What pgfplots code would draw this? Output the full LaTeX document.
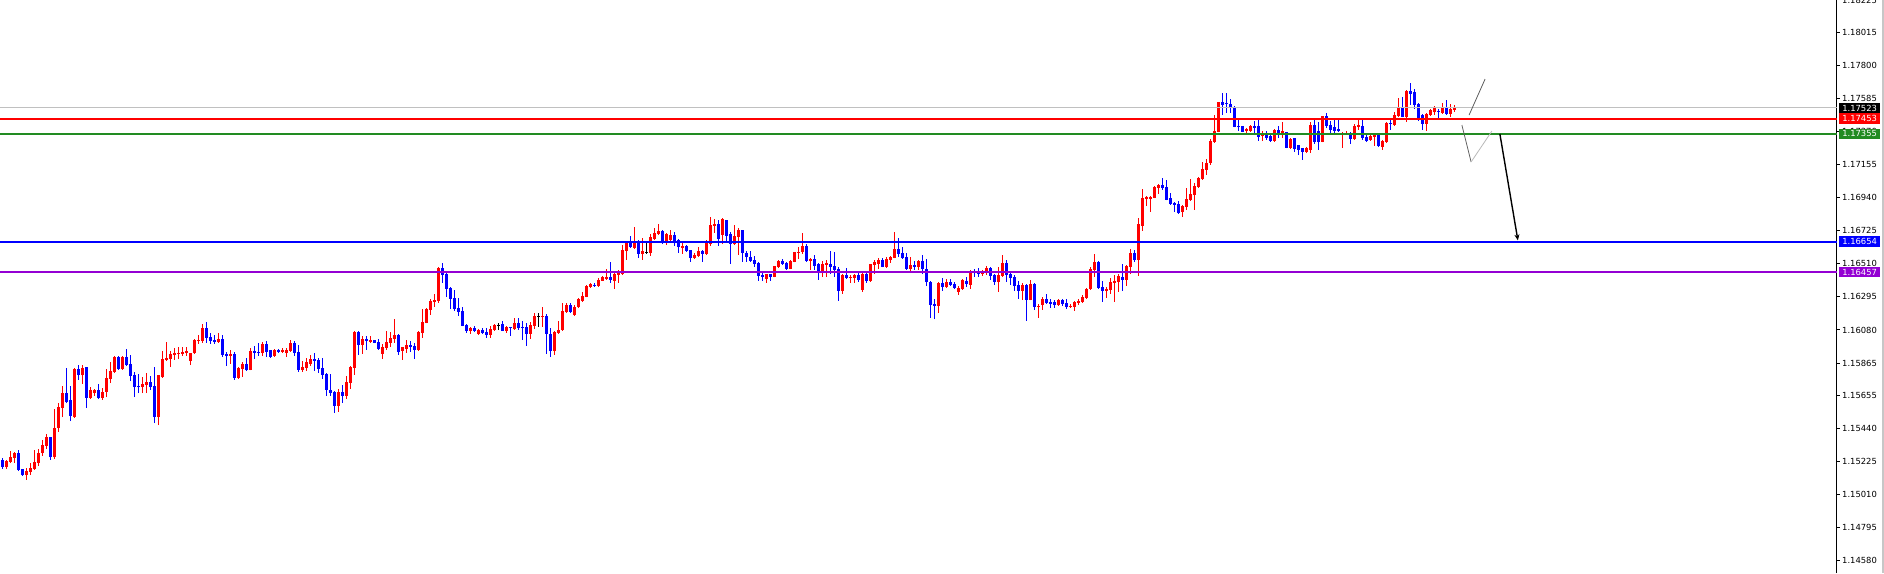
\documentclass[border=0pt]{standalone}
\usepackage{fontspec}
\setmainfont{DejaVu Sans}
\usepackage{pgfplots}
\usepackage{pgfplotstable}
\pgfplotsset{compat=1.18}
\usetikzlibrary{arrows.meta}
\definecolor{mtred}{RGB}{255,0,0}
\definecolor{mtblue}{RGB}{0,0,255}
\definecolor{mtgreen}{RGB}{34,139,34}
\definecolor{mtpurple}{RGB}{148,0,211}
\definecolor{mtgray}{RGB}{192,192,192}

\pgfplotstableread{
i o h l c
0 1.15235 1.15248 1.15179 1.15192
1 1.15192 1.15235 1.15179 1.15226
2 1.15222 1.15293 1.15215 1.15254
3 1.15248 1.15287 1.15215 1.15278
4 1.15280 1.15298 1.15163 1.15170
5 1.15176 1.15178 1.15133 1.15137
6 1.15137 1.15181 1.15105 1.15163
7 1.15157 1.15215 1.15137 1.15183
8 1.15176 1.15300 1.15170 1.15222
9 1.15215 1.15306 1.15196 1.15280
10 1.15280 1.15365 1.15261 1.15332
11 1.15326 1.15404 1.15306 1.15384
12 1.15384 1.15386 1.15235 1.15254
13 1.15254 1.15566 1.15241 1.15443
14 1.15443 1.15605 1.15417 1.15579
15 1.15573 1.15716 1.15514 1.15670
16 1.15670 1.15833 1.15605 1.15612
17 1.15625 1.15716 1.15488 1.15521
18 1.15514 1.15833 1.15510 1.15826
19 1.15826 1.15852 1.15755 1.15787
20 1.15787 1.15852 1.15729 1.15833
21 1.15839 1.15842 1.15573 1.15638
22 1.15638 1.15709 1.15631 1.15690
23 1.15670 1.15694 1.15651 1.15690
24 1.15690 1.15729 1.15631 1.15638
25 1.15638 1.15703 1.15625 1.15677
26 1.15677 1.15826 1.15644 1.15768
27 1.15761 1.15872 1.15735 1.15813
28 1.15807 1.15911 1.15800 1.15904
29 1.15904 1.15911 1.15820 1.15826
30 1.15826 1.15911 1.15820 1.15904
31 1.15904 1.15956 1.15846 1.15852
32 1.15859 1.15917 1.15748 1.15781
33 1.15787 1.15807 1.15644 1.15709
34 1.15716 1.15794 1.15670 1.15709
35 1.15709 1.15774 1.15670 1.15729
36 1.15722 1.15800 1.15670 1.15742
37 1.15742 1.15781 1.15690 1.15709
38 1.15716 1.15839 1.15475 1.15514
39 1.15514 1.15790 1.15462 1.15787
40 1.15774 1.15943 1.15768 1.15891
41 1.15885 1.16002 1.15878 1.15898
42 1.15891 1.15943 1.15839 1.15924
43 1.15917 1.15963 1.15885 1.15930
44 1.15924 1.15969 1.15891 1.15930
45 1.15924 1.15969 1.15911 1.15937
46 1.15930 1.15969 1.15911 1.15943
47 1.15878 1.15932 1.15852 1.15930
48 1.15930 1.16022 1.15924 1.16015
49 1.16009 1.16048 1.15989 1.16015
50 1.16009 1.16119 1.15996 1.16093
51 1.16093 1.16132 1.15996 1.16028
52 1.16035 1.16061 1.15989 1.16009
53 1.16015 1.16048 1.15989 1.16002
54 1.16002 1.16061 1.15996 1.16022
55 1.16022 1.16048 1.15905 1.15918
56 1.15924 1.15937 1.15846 1.15911
57 1.15911 1.15950 1.15859 1.15924
58 1.15924 1.15937 1.15755 1.15768
59 1.15768 1.15840 1.15762 1.15833
60 1.15827 1.15872 1.15775 1.15859
61 1.15859 1.15898 1.15814 1.15820
62 1.15820 1.15963 1.15817 1.15944
63 1.15944 1.15976 1.15892 1.15931
64 1.15937 1.15996 1.15911 1.15931
65 1.15931 1.16002 1.15911 1.15989
66 1.15989 1.16009 1.15905 1.15937
67 1.15950 1.15952 1.15898 1.15905
68 1.15911 1.15957 1.15905 1.15950
69 1.15950 1.15957 1.15931 1.15937
70 1.15937 1.15963 1.15931 1.15950
71 1.15931 1.15963 1.15905 1.15950
72 1.15944 1.16015 1.15937 1.15996
73 1.15996 1.16009 1.15911 1.15931
74 1.15937 1.15983 1.15807 1.15820
75 1.15820 1.15879 1.15807 1.15840
76 1.15833 1.15898 1.15814 1.15872
77 1.15859 1.15918 1.15846 1.15892
78 1.15892 1.15931 1.15814 1.15879
79 1.15885 1.15898 1.15801 1.15827
80 1.15833 1.15898 1.15762 1.15788
81 1.15794 1.15797 1.15651 1.15690
82 1.15690 1.15794 1.15651 1.15671
83 1.15677 1.15684 1.15541 1.15586
84 1.15586 1.15697 1.15547 1.15677
85 1.15677 1.15723 1.15606 1.15651
86 1.15651 1.15781 1.15632 1.15742
87 1.15736 1.15846 1.15697 1.15840
88 1.15833 1.16074 1.15788 1.16067
89 1.16067 1.16070 1.15918 1.15983
90 1.15983 1.16041 1.15924 1.16022
91 1.16022 1.16041 1.15950 1.16009
92 1.16002 1.16041 1.15996 1.16015
93 1.16015 1.16017 1.15994 1.15996
94 1.16002 1.16022 1.15950 1.15957
95 1.15924 1.15989 1.15892 1.15970
96 1.15963 1.16074 1.15950 1.16002
97 1.15996 1.16067 1.15970 1.16028
98 1.16022 1.16152 1.15996 1.16048
99 1.16048 1.16054 1.15918 1.15937
100 1.15944 1.15972 1.15885 1.15970
101 1.15957 1.16015 1.15931 1.15983
102 1.15983 1.16009 1.15937 1.15970
103 1.15976 1.15996 1.15892 1.15950
104 1.15950 1.16070 1.15944 1.16067
105 1.16061 1.16217 1.16028 1.16132
106 1.16126 1.16223 1.16122 1.16217
107 1.16210 1.16282 1.16178 1.16269
108 1.16262 1.16314 1.16230 1.16275
109 1.16269 1.16486 1.16256 1.16483
110 1.16483 1.16516 1.16386 1.16438
111 1.16444 1.16451 1.16295 1.16347
112 1.16353 1.16360 1.16217 1.16282
113 1.16288 1.16340 1.16204 1.16217
114 1.16223 1.16288 1.16171 1.16197
115 1.16204 1.16230 1.16103 1.16106
116 1.16113 1.16119 1.16061 1.16074
117 1.16074 1.16100 1.16054 1.16093
118 1.16093 1.16106 1.16067 1.16074
119 1.16054 1.16087 1.16048 1.16080
120 1.16080 1.16093 1.16054 1.16061
121 1.16067 1.16093 1.16028 1.16048
122 1.16048 1.16106 1.16028 1.16087
123 1.16080 1.16119 1.16074 1.16113
124 1.16113 1.16126 1.16080 1.16113
125 1.16119 1.16139 1.16072 1.16074
126 1.16074 1.16106 1.16061 1.16100
127 1.16100 1.16102 1.16041 1.16093
128 1.16087 1.16158 1.16080 1.16126
129 1.16126 1.16158 1.16080 1.16093
130 1.16100 1.16139 1.16015 1.16093
131 1.16100 1.16126 1.15976 1.16054
132 1.16054 1.16132 1.16022 1.16113
133 1.16106 1.16191 1.16087 1.16171
134 1.16171 1.16191 1.16100 1.16171
135 1.16165 1.16230 1.16100 1.16171
136 1.16171 1.16184 1.15924 1.16054
137 1.16054 1.16093 1.15905 1.15944
138 1.15944 1.16074 1.15918 1.16067
139 1.16061 1.16139 1.16054 1.16080
140 1.16080 1.16256 1.16074 1.16204
141 1.16197 1.16256 1.16191 1.16243
142 1.16243 1.16256 1.16191 1.16197
143 1.16178 1.16243 1.16171 1.16230
144 1.16230 1.16288 1.16223 1.16282
145 1.16269 1.16327 1.16262 1.16301
146 1.16295 1.16373 1.16292 1.16366
147 1.16360 1.16386 1.16353 1.16379
148 1.16373 1.16386 1.16360 1.16366
149 1.16366 1.16418 1.16360 1.16405
150 1.16399 1.16431 1.16397 1.16425
151 1.16412 1.16477 1.16405 1.16425
152 1.16425 1.16522 1.16386 1.16405
153 1.16399 1.16451 1.16347 1.16444
154 1.16438 1.16470 1.16386 1.16451
155 1.16444 1.16633 1.16438 1.16600
156 1.16594 1.16659 1.16535 1.16652
157 1.16659 1.16691 1.16613 1.16620
158 1.16613 1.16750 1.16607 1.16659
159 1.16659 1.16665 1.16548 1.16574
160 1.16574 1.16678 1.16535 1.16594
161 1.16587 1.16659 1.16574 1.16587
162 1.16581 1.16704 1.16561 1.16685
163 1.16672 1.16743 1.16665 1.16711
164 1.16704 1.16769 1.16698 1.16724
165 1.16724 1.16727 1.16639 1.16646
166 1.16646 1.16711 1.16633 1.16704
167 1.16665 1.16730 1.16652 1.16698
168 1.16698 1.16717 1.16626 1.16659
169 1.16665 1.16672 1.16581 1.16620
170 1.16613 1.16652 1.16574 1.16626
171 1.16626 1.16633 1.16587 1.16594
172 1.16600 1.16603 1.16522 1.16548
173 1.16548 1.16581 1.16542 1.16568
174 1.16561 1.16620 1.16555 1.16594
175 1.16594 1.16597 1.16522 1.16574
176 1.16574 1.16662 1.16568 1.16659
177 1.16639 1.16815 1.16626 1.16763
178 1.16756 1.16802 1.16711 1.16769
179 1.16769 1.16795 1.16626 1.16672
180 1.16698 1.16805 1.16639 1.16802
181 1.16795 1.16798 1.16659 1.16691
182 1.16704 1.16717 1.16509 1.16639
183 1.16639 1.16763 1.16633 1.16691
184 1.16685 1.16743 1.16568 1.16730
185 1.16730 1.16733 1.16522 1.16581
186 1.16581 1.16594 1.16522 1.16555
187 1.16555 1.16594 1.16522 1.16529
188 1.16535 1.16561 1.16490 1.16509
189 1.16516 1.16519 1.16399 1.16431
190 1.16438 1.16464 1.16399 1.16425
191 1.16412 1.16447 1.16386 1.16444
192 1.16444 1.16447 1.16399 1.16425
193 1.16425 1.16499 1.16422 1.16496
194 1.16490 1.16535 1.16483 1.16529
195 1.16529 1.16542 1.16503 1.16509
196 1.16516 1.16522 1.16470 1.16477
197 1.16477 1.16535 1.16474 1.16529
198 1.16522 1.16590 1.16519 1.16587
199 1.16581 1.16620 1.16542 1.16587
200 1.16587 1.16711 1.16574 1.16626
201 1.16626 1.16639 1.16522 1.16529
202 1.16529 1.16548 1.16470 1.16542
203 1.16542 1.16568 1.16470 1.16496
204 1.16509 1.16516 1.16405 1.16451
205 1.16457 1.16529 1.16425 1.16509
206 1.16503 1.16535 1.16425 1.16516
207 1.16509 1.16594 1.16444 1.16490
208 1.16496 1.16587 1.16425 1.16470
209 1.16477 1.16490 1.16269 1.16334
210 1.16334 1.16441 1.16314 1.16438
211 1.16438 1.16483 1.16412 1.16418
212 1.16418 1.16438 1.16386 1.16425
213 1.16418 1.16444 1.16386 1.16438
214 1.16438 1.16451 1.16392 1.16405
215 1.16340 1.16451 1.16327 1.16444
216 1.16444 1.16457 1.16386 1.16399
217 1.16399 1.16512 1.16392 1.16509
218 1.16503 1.16535 1.16444 1.16522
219 1.16509 1.16548 1.16477 1.16535
220 1.16535 1.16548 1.16487 1.16490
221 1.16490 1.16555 1.16483 1.16542
222 1.16535 1.16561 1.16516 1.16555
223 1.16548 1.16717 1.16545 1.16607
224 1.16607 1.16678 1.16555 1.16574
225 1.16581 1.16620 1.16542 1.16548
226 1.16555 1.16581 1.16470 1.16477
227 1.16477 1.16555 1.16464 1.16503
228 1.16503 1.16529 1.16470 1.16490
229 1.16490 1.16535 1.16470 1.16529
230 1.16529 1.16568 1.16444 1.16477
231 1.16477 1.16542 1.16366 1.16392
232 1.16392 1.16395 1.16158 1.16242
233 1.16249 1.16281 1.16151 1.16236
234 1.16236 1.16389 1.16190 1.16386
235 1.16386 1.16418 1.16334 1.16360
236 1.16360 1.16412 1.16353 1.16392
237 1.16392 1.16412 1.16366 1.16373
238 1.16379 1.16392 1.16347 1.16353
239 1.16327 1.16366 1.16308 1.16353
240 1.16347 1.16412 1.16340 1.16405
241 1.16399 1.16425 1.16360 1.16379
242 1.16373 1.16467 1.16347 1.16464
243 1.16464 1.16477 1.16425 1.16451
244 1.16451 1.16483 1.16425 1.16444
245 1.16444 1.16470 1.16431 1.16464
246 1.16464 1.16496 1.16438 1.16483
247 1.16483 1.16490 1.16405 1.16431
248 1.16438 1.16441 1.16373 1.16392
249 1.16392 1.16490 1.16327 1.16438
250 1.16431 1.16568 1.16425 1.16516
251 1.16516 1.16535 1.16392 1.16438
252 1.16444 1.16464 1.16373 1.16418
253 1.16425 1.16438 1.16334 1.16366
254 1.16373 1.16399 1.16282 1.16334
255 1.16334 1.16386 1.16275 1.16373
256 1.16373 1.16376 1.16139 1.16275
257 1.16275 1.16405 1.16272 1.16379
258 1.16379 1.16382 1.16210 1.16230
259 1.16230 1.16249 1.16158 1.16236
260 1.16243 1.16295 1.16210 1.16282
261 1.16282 1.16314 1.16249 1.16256
262 1.16262 1.16282 1.16223 1.16249
263 1.16262 1.16275 1.16223 1.16243
264 1.16243 1.16282 1.16236 1.16275
265 1.16275 1.16282 1.16236 1.16249
266 1.16256 1.16282 1.16217 1.16230
267 1.16230 1.16249 1.16223 1.16236
268 1.16230 1.16269 1.16204 1.16262
269 1.16256 1.16282 1.16243 1.16269
270 1.16262 1.16308 1.16256 1.16295
271 1.16288 1.16353 1.16282 1.16347
272 1.16347 1.16490 1.16340 1.16477
273 1.16470 1.16574 1.16425 1.16522
274 1.16522 1.16529 1.16347 1.16353
275 1.16360 1.16399 1.16262 1.16334
276 1.16334 1.16360 1.16288 1.16347
277 1.16340 1.16418 1.16314 1.16392
278 1.16386 1.16438 1.16262 1.16399
279 1.16392 1.16444 1.16327 1.16431
280 1.16425 1.16509 1.16334 1.16405
281 1.16405 1.16503 1.16366 1.16496
282 1.16490 1.16607 1.16444 1.16581
283 1.16581 1.16600 1.16522 1.16535
284 1.16535 1.16808 1.16431 1.16769
285 1.16756 1.16997 1.16724 1.16938
286 1.16932 1.16951 1.16886 1.16945
287 1.16932 1.16951 1.16847 1.16945
288 1.16938 1.17016 1.16935 1.17010
289 1.17003 1.17029 1.16964 1.17023
290 1.17023 1.17068 1.16990 1.17003
291 1.17010 1.17055 1.16922 1.16925
292 1.16938 1.16971 1.16893 1.16899
293 1.16906 1.16912 1.16847 1.16893
294 1.16899 1.16918 1.16834 1.16840
295 1.16847 1.16893 1.16815 1.16886
296 1.16880 1.17003 1.16860 1.16932
297 1.16925 1.17062 1.16918 1.16964
298 1.16958 1.17036 1.16860 1.17016
299 1.17010 1.17075 1.17003 1.17068
300 1.17062 1.17172 1.17055 1.17127
301 1.17120 1.17192 1.17088 1.17166
302 1.17166 1.17322 1.17153 1.17309
303 1.17302 1.17478 1.17296 1.17374
304 1.17367 1.17565 1.17364 1.17562
305 1.17562 1.17621 1.17478 1.17543
306 1.17556 1.17621 1.17491 1.17549
307 1.17549 1.17582 1.17491 1.17530
308 1.17530 1.17533 1.17397 1.17400
309 1.17406 1.17452 1.17374 1.17400
310 1.17406 1.17409 1.17364 1.17367
311 1.17374 1.17393 1.17354 1.17387
312 1.17374 1.17413 1.17367 1.17406
313 1.17406 1.17439 1.17361 1.17393
314 1.17406 1.17452 1.17309 1.17335
315 1.17341 1.17374 1.17309 1.17361
316 1.17354 1.17374 1.17315 1.17328
317 1.17341 1.17348 1.17302 1.17309
318 1.17309 1.17387 1.17302 1.17380
319 1.17380 1.17406 1.17328 1.17361
320 1.17361 1.17432 1.17328 1.17374
321 1.17367 1.17370 1.17260 1.17263
322 1.17263 1.17328 1.17256 1.17321
323 1.17328 1.17331 1.17237 1.17256
324 1.17282 1.17285 1.17217 1.17250
325 1.17263 1.17266 1.17185 1.17237
326 1.17237 1.17270 1.17230 1.17263
327 1.17250 1.17432 1.17230 1.17412
328 1.17412 1.17445 1.17289 1.17302
329 1.17374 1.17432 1.17250 1.17302
330 1.17302 1.17474 1.17299 1.17471
331 1.17471 1.17490 1.17393 1.17406
332 1.17412 1.17439 1.17348 1.17380
333 1.17400 1.17452 1.17348 1.17374
334 1.17387 1.17445 1.17370 1.17374
335 1.17354 1.17364 1.17263 1.17361
336 1.17354 1.17374 1.17348 1.17361
337 1.17361 1.17364 1.17289 1.17322
338 1.17322 1.17419 1.17315 1.17406
339 1.17400 1.17445 1.17380 1.17412
340 1.17406 1.17445 1.17315 1.17328
341 1.17335 1.17354 1.17302 1.17309
342 1.17315 1.17348 1.17309 1.17341
343 1.17335 1.17361 1.17276 1.17348
344 1.17348 1.17354 1.17270 1.17276
345 1.17270 1.17312 1.17250 1.17309
346 1.17302 1.17432 1.17296 1.17426
347 1.17426 1.17445 1.17380 1.17419
348 1.17412 1.17497 1.17406 1.17478
349 1.17471 1.17588 1.17465 1.17523
350 1.17523 1.17595 1.17462 1.17465
351 1.17465 1.17640 1.17432 1.17634
352 1.17634 1.17686 1.17543 1.17614
353 1.17627 1.17647 1.17517 1.17543
354 1.17549 1.17556 1.17439 1.17445
355 1.17478 1.17481 1.17380 1.17419
356 1.17419 1.17491 1.17374 1.17484
357 1.17478 1.17517 1.17471 1.17510
358 1.17497 1.17536 1.17478 1.17523
359 1.17506 1.17517 1.17445 1.17500
360 1.17491 1.17556 1.17484 1.17530
361 1.17530 1.17575 1.17478 1.17484
362 1.17484 1.17549 1.17465 1.17517
363 1.17510 1.17543 1.17497 1.17530
}\candles

\begin{document}
\begin{tikzpicture}
\useasboundingbox (0,0) rectangle (1884pt,573pt);
\begin{axis}[
  at={(0pt,0pt)}, anchor=south west,
  scale only axis, width=1837pt, height=573pt,
  xmin=-0.575, xmax=458.675, ymin=1.14500, ymax=1.18225,
  axis x line=none,
  axis y line*=right,
  axis line style={-, black, line width=1pt},
  ytick={1.18225,1.18015,1.17800,1.17585,1.17370,1.17155,1.16940,1.16725,1.16510,1.16295,1.16080,1.15865,1.15655,1.15440,1.15225,1.15010,1.14795,1.14580},
  yticklabels={1.18225,1.18015,1.17800,1.17585,1.17370,1.17155,1.16940,1.16725,1.16510,1.16295,1.16080,1.15865,1.15655,1.15440,1.15225,1.15010,1.14795,1.14580},
  tick align=outside, major tick length=3pt,
  tick style={black, line width=1pt},
  yticklabel style={font=\fontsize{8.4}{9}\selectfont, anchor=west, inner xsep=2pt},
  clip mode=individual,
]
% up candles
\addplot[mtred, line width=1pt, quiver={u=0, v=\thisrow{h}-\thisrow{l}},
  restrict expr to domain={\thisrow{c}-\thisrow{o}}{0.0000001:1}] table[x=i, y=l] {\candles};
\addplot[mtred, line width=3pt, quiver={u=0, v=\thisrow{c}-\thisrow{o}},
  restrict expr to domain={\thisrow{c}-\thisrow{o}}{0.0000001:1}] table[x=i, y=o] {\candles};
% down candles
\addplot[mtblue, line width=1pt, quiver={u=0, v=\thisrow{h}-\thisrow{l}},
  restrict expr to domain={\thisrow{c}-\thisrow{o}}{-1:-0.0000001}] table[x=i, y=l] {\candles};
\addplot[mtblue, line width=3pt, quiver={u=0, v=\thisrow{o}-\thisrow{c}},
  restrict expr to domain={\thisrow{c}-\thisrow{o}}{-1:-0.0000001}] table[x=i, y=c] {\candles};
% doji
\addplot[black, line width=1pt, quiver={u=0, v=\thisrow{h}-\thisrow{l}},
  restrict expr to domain={\thisrow{c}-\thisrow{o}}{-0.0000001:0.0000001}] table[x=i, y=l] {\candles};
\addplot[black, line width=3pt, quiver={u=0, v=0.000016},
  restrict expr to domain={\thisrow{c}-\thisrow{o}}{-0.0000001:0.0000001}] table[x=i, y expr=\thisrow{o}-0.000008] {\candles};

% horizontal levels
\addplot[mtgray, line width=1pt] coordinates {(-1,1.17523) (460,1.17523)};
\addplot[mtred, line width=2pt] coordinates {(-1,1.17453) (460,1.17453)};
\addplot[mtgreen, line width=2pt] coordinates {(-1,1.17355) (460,1.17355)};
\addplot[mtblue, line width=2pt] coordinates {(-1,1.16654) (460,1.16654)};
\addplot[mtpurple, line width=2pt] coordinates {(-1,1.16457) (460,1.16457)};

% projected path
\addplot[gray!75!black, line width=0.8pt] coordinates {(364.9,1.17412) (367.2,1.17172)};
\addplot[gray!55, line width=0.8pt] coordinates {(367.2,1.17172) (372.4,1.17373)};
\addplot[gray!75!black, line width=0.8pt] coordinates {(366.7,1.17477) (370.7,1.17711)};
\addplot[black, line width=1.4pt, -{Stealth[length=6pt,width=5pt]}] coordinates {(374.4,1.17354) (378.9,1.16662)};

% price boxes
\node[fill=black, text=white, anchor=west, inner xsep=3pt, inner ysep=0pt, minimum height=10.5pt, font=\fontsize{8.4}{9}\selectfont] at (axis cs:459.2,1.17523) {1.17523};
\node[fill=mtred, text=white, anchor=west, inner xsep=3pt, inner ysep=0pt, minimum height=10.5pt, font=\fontsize{8.4}{9}\selectfont] at (axis cs:459.2,1.17453) {1.17453};
\node[fill=mtgreen, text=white, anchor=west, inner xsep=3pt, inner ysep=0pt, minimum height=10.5pt, font=\fontsize{8.4}{9}\selectfont] at (axis cs:459.2,1.17355) {1.17355};
\node[fill=mtblue, text=white, anchor=west, inner xsep=3pt, inner ysep=0pt, minimum height=10.5pt, font=\fontsize{8.4}{9}\selectfont] at (axis cs:459.2,1.16654) {1.16654};
\node[fill=mtpurple, text=white, anchor=west, inner xsep=3pt, inner ysep=0pt, minimum height=10.5pt, font=\fontsize{8.4}{9}\selectfont] at (axis cs:459.2,1.16457) {1.16457};
\end{axis}
\fill[black!22] (1882pt,0pt) rectangle (1884pt,573pt);
\end{tikzpicture}
\end{document}
